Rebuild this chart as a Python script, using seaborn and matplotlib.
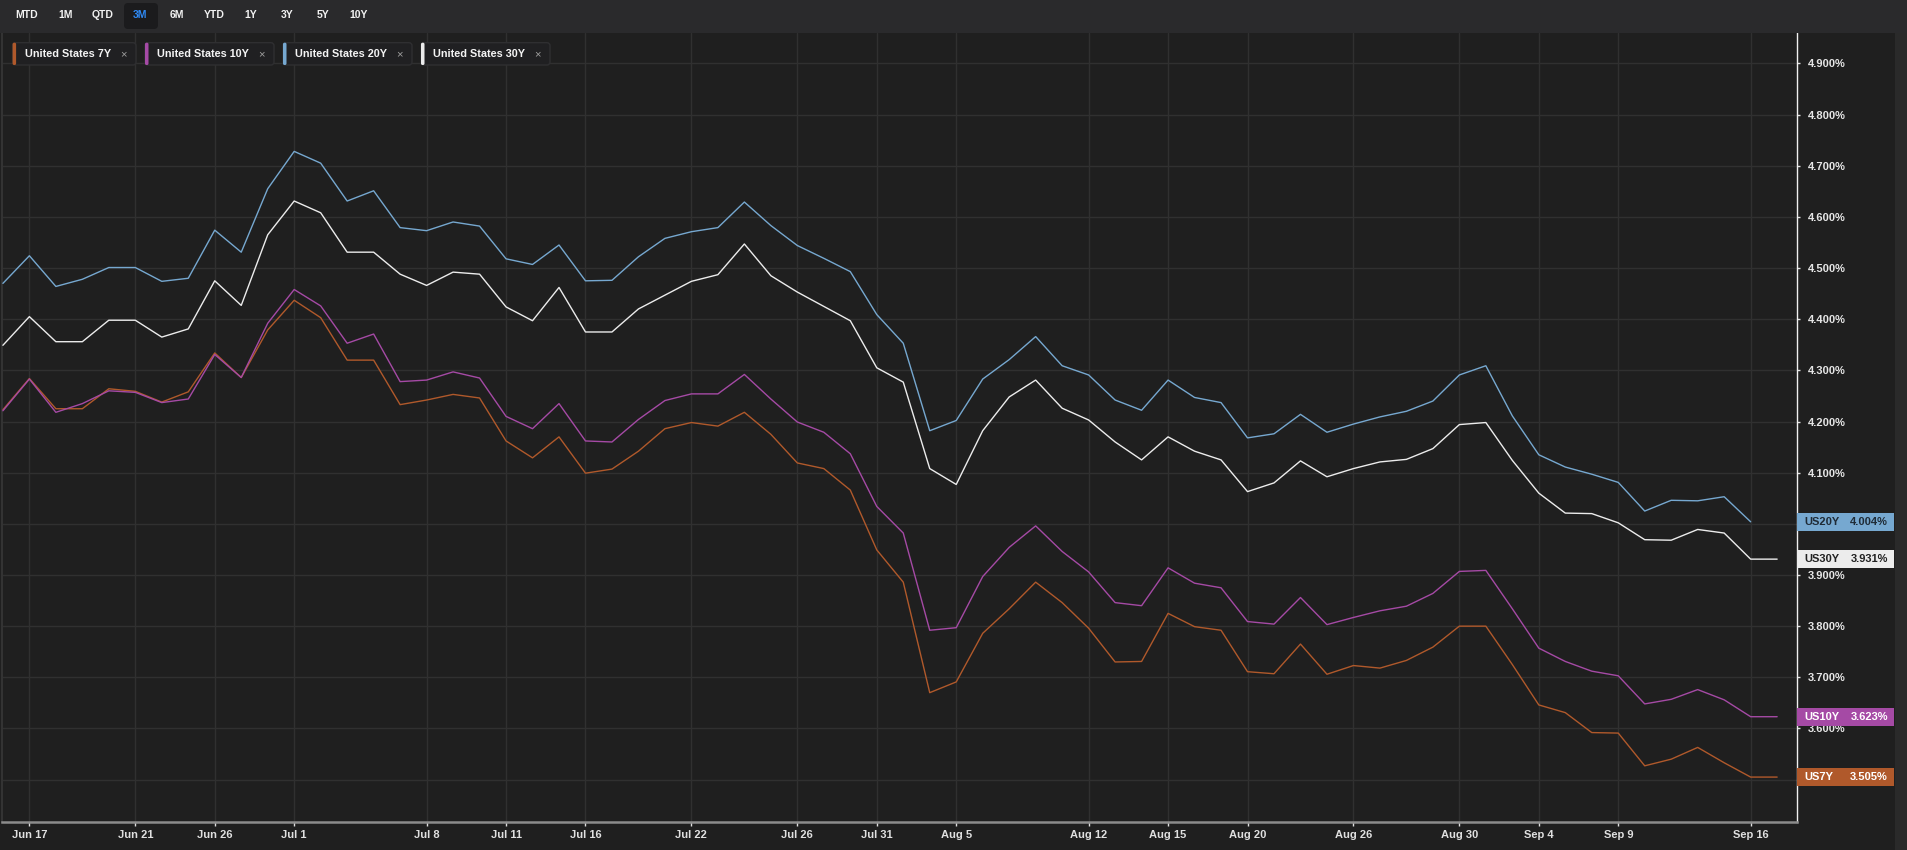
import numpy as np
import pandas as pd
import matplotlib
matplotlib.use("Agg")
import matplotlib.pyplot as plt
import matplotlib.transforms as mtransforms
from matplotlib.patches import Rectangle, FancyBboxPatch
import seaborn as sns

# weekdays shown on the chart (Jun 14 .. Sep 17)
dates = pd.bdate_range("2024-06-14", "2024-09-17")

us7y = [4.223, 4.284, 4.225, 4.225, 4.264, 4.259, 4.238, 4.258, 4.334, 4.286,
        4.379, 4.437, 4.403, 4.320, 4.320, 4.233, 4.242, 4.253, 4.246, 4.162,
        4.129, 4.170, 4.099, 4.107, 4.142, 4.186, 4.198, 4.191, 4.218, 4.175,
        4.119, 4.108, 4.066, 3.949, 3.886, 3.670, 3.691, 3.786, 3.834, 3.886,
        3.846, 3.796, 3.730, 3.731, 3.825, 3.799, 3.792, 3.711, 3.707, 3.765,
        3.706, 3.723, 3.718, 3.733, 3.759, 3.800, 3.800, 3.725, 3.646, 3.631,
        3.592, 3.591, 3.527, 3.540, 3.563, 3.533, 3.505, 3.505]
us10y = [4.221, 4.283, 4.218, 4.235, 4.260, 4.257, 4.237, 4.244, 4.331, 4.286,
         4.392, 4.458, 4.426, 4.353, 4.371, 4.278, 4.281, 4.297, 4.285, 4.210,
         4.186, 4.235, 4.162, 4.160, 4.204, 4.241, 4.254, 4.254, 4.292, 4.244,
         4.199, 4.179, 4.137, 4.034, 3.982, 3.792, 3.797, 3.897, 3.954, 3.996,
         3.946, 3.906, 3.846, 3.840, 3.914, 3.884, 3.875, 3.809, 3.804, 3.856,
         3.803, 3.817, 3.830, 3.839, 3.864, 3.907, 3.909, 3.834, 3.757, 3.731,
         3.712, 3.703, 3.648, 3.657, 3.676, 3.656, 3.623, 3.623]
us20y = [4.470, 4.524, 4.464, 4.478, 4.501, 4.501, 4.474, 4.480, 4.574, 4.531,
         4.655, 4.728, 4.705, 4.631, 4.651, 4.579, 4.573, 4.590, 4.582, 4.518,
         4.507, 4.545, 4.475, 4.476, 4.522, 4.558, 4.571, 4.579, 4.629, 4.583,
         4.544, 4.519, 4.493, 4.409, 4.353, 4.182, 4.202, 4.283, 4.321, 4.366,
         4.309, 4.291, 4.242, 4.222, 4.281, 4.247, 4.237, 4.168, 4.176, 4.214,
         4.179, 4.195, 4.209, 4.220, 4.240, 4.291, 4.309, 4.211, 4.135, 4.111,
         4.097, 4.081, 4.025, 4.046, 4.045, 4.053, 4.004, np.nan]
us30y = [4.349, 4.405, 4.356, 4.356, 4.398, 4.398, 4.365, 4.381, 4.475, 4.427,
         4.565, 4.631, 4.608, 4.531, 4.531, 4.488, 4.466, 4.492, 4.488, 4.424,
         4.397, 4.462, 4.375, 4.375, 4.420, 4.447, 4.474, 4.487, 4.547, 4.485,
         4.453, 4.425, 4.397, 4.305, 4.277, 4.108, 4.077, 4.182, 4.248, 4.281,
         4.226, 4.203, 4.160, 4.125, 4.170, 4.142, 4.125, 4.063, 4.080, 4.123,
         4.092, 4.108, 4.121, 4.126, 4.147, 4.194, 4.198, 4.124, 4.060, 4.021,
         4.020, 4.002, 3.969, 3.968, 3.989, 3.982, 3.931, 3.931]

series_names = ["United States 7Y", "United States 10Y", "United States 20Y", "United States 30Y"]
short_names = ["US7Y", "US10Y", "US20Y", "US30Y"]
colors = ["#b0592b", "#a54aa5", "#76a8d0", "#ececec"]
box_text_colors = ["#ffffff", "#ffffff", "#1f2b36", "#222222"]

tick_days = ["2024-06-17", "2024-06-21", "2024-06-26", "2024-07-01", "2024-07-08",
             "2024-07-11", "2024-07-16", "2024-07-22", "2024-07-26", "2024-07-31",
             "2024-08-05", "2024-08-12", "2024-08-15", "2024-08-20", "2024-08-26",
             "2024-08-30", "2024-09-04", "2024-09-09", "2024-09-16"]
tick_labels = ["Jun 17", "Jun 21", "Jun 26", "Jul 1", "Jul 8", "Jul 11", "Jul 16",
               "Jul 22", "Jul 26", "Jul 31", "Aug 5", "Aug 12", "Aug 15", "Aug 20",
               "Aug 26", "Aug 30", "Sep 4", "Sep 9", "Sep 16"]
y_ticks = [3.5, 3.6, 3.7, 3.8, 3.9, 4.0, 4.1, 4.2, 4.3, 4.4, 4.5, 4.6, 4.7, 4.8, 4.9]
# labels sitting under a last-value box are hidden in the original
hidden_ticks = [3.5, 4.0]
range_buttons = ["MTD", "1M", "QTD", "3M", "6M", "YTD", "1Y", "3Y", "5Y", "10Y"]
active_range = "3M"

W, H = 1908, 850
BG = "#1f1f1f"

sns.set_theme(style="dark")
plt.rcParams["font.family"] = ["Liberation Sans", "DejaVu Sans"]

df = pd.DataFrame({
    "day": np.tile(np.arange(len(dates)), 4),
    "yield": np.concatenate([us7y, us10y, us20y, us30y]),
    "series": np.repeat(series_names, len(dates)),
})

fig = plt.figure(figsize=(W / 100, H / 100), dpi=100, facecolor=BG)
# pixel (from top-left) -> figure
pxT = mtransforms.Affine2D().scale(1 / W, -1 / H).translate(0, 1) + fig.transFigure

ax = fig.add_axes([2 / W, 1 - 822 / H, 1795 / W, (822 - 33) / H])
ax.set_facecolor(BG)

sns.lineplot(data=df, x="day", y="yield", hue="series", hue_order=series_names,
             palette=dict(zip(series_names, colors)), linewidth=1.0,
             legend=False, ax=ax, zorder=3)

ax.set_xlim(-0.034, 67.75)
ax.set_ylim(3.4172, 4.9594)
tick_pos = [dates.get_loc(pd.Timestamp(d)) for d in tick_days]
ax.set_xticks(tick_pos)
ax.set_xticklabels(tick_labels, family=["Liberation Sans Narrow", "Liberation Sans"],
                   fontweight="bold", fontsize=8, color="#e0e0e0")
ax.yaxis.tick_right()
ax.set_yticks(y_ticks)
ax.set_yticklabels(["" if v in hidden_ticks else f"{v:.3f}%" for v in y_ticks],
                   fontweight="bold", fontsize=8, color="#e6e6e6")
ax.tick_params(axis="x", direction="out", length=3, width=1, color="#e0e0e0", pad=3,
               bottom=True)
ax.tick_params(axis="y", direction="out", length=2.5, width=1, color="#e0e0e0", pad=5,
               right=True, left=False)
ax.set_xlabel("")
ax.set_ylabel("")
ax.grid(True, color="#303030", linewidth=1.0)
ax.set_axisbelow(True)
ax.spines["top"].set_visible(False)
ax.spines["left"].set_color("#333333")
ax.spines["left"].set_linewidth(1.5)
ax.spines["right"].set_color("#f0f0f0")
ax.spines["right"].set_linewidth(1.0)
ax.spines["bottom"].set_color("#8c8c8c")
ax.spines["bottom"].set_linewidth(1.8)

# last value boxes on the right axis
boxT = mtransforms.blended_transform_factory(pxT, ax.transData)
last_vals = [us7y[-1], us10y[-1], us20y[-2], us30y[-1]]
for name, val, c, tc in zip(short_names, last_vals, colors, box_text_colors):
    fig.add_artist(Rectangle((1797, val - 0.0179), 97, 0.0358, transform=boxT,
                             facecolor=c, edgecolor="none", zorder=5))
    fig.text(1804, val, name, transform=boxT, ha="left", va="center", fontsize=8,
             fontweight="bold", color=tc, zorder=6)
    fig.text(1888, val, f"{val:.3f}%", transform=boxT, ha="right", va="center",
             fontsize=8, fontweight="bold", color=tc, zorder=6)

# right-hand strip and toolbar
fig.add_artist(Rectangle((1895, 33), 13, 817, transform=pxT, facecolor="#2a2a2a",
                         edgecolor="none", zorder=1))
fig.add_artist(Rectangle((0, 0), W, 33, transform=pxT, facecolor="#2a2a2c",
                         edgecolor="none", zorder=1))
btn_x = [27, 66, 103, 140, 177, 214, 251, 287, 323, 359]
for label, bx in zip(range_buttons, btn_x):
    if label == active_range:
        fig.add_artist(FancyBboxPatch((124, 3), 34, 26, transform=pxT,
                                      boxstyle="round,pad=0,rounding_size=4",
                                      facecolor="#1b1b1d", edgecolor="none", zorder=2))
    fig.text(bx, 15.5, label, transform=pxT, ha="center", va="center", fontsize=7.5,
             fontweight="bold", color="#2f8af5" if label == active_range else "#f2f2f2",
             zorder=3)

# series chips
chip_x = [(12.6, 136), (145, 274), (283, 412), (421, 550)]
for name, c, (x0, x1) in zip(series_names, colors, chip_x):
    fig.add_artist(FancyBboxPatch((x0, 42.7), x1 - x0, 22.3, transform=pxT,
                                  boxstyle="round,pad=0,rounding_size=3",
                                  facecolor="#202022", edgecolor="#2f2f31",
                                  linewidth=1, zorder=2))
    fig.add_artist(FancyBboxPatch((x0, 42.7), 3.5, 22.3, transform=pxT,
                                  boxstyle="round,pad=0,rounding_size=1.5",
                                  facecolor=c, edgecolor="none", zorder=3))
    fig.text(x0 + 12.5, 54, name, transform=pxT, ha="left", va="center", fontsize=7.8,
             fontweight="bold", color="#f4f4f4", zorder=4)
    fig.text(x1 - 13, 54.5, "×", transform=pxT, ha="center", va="center", fontsize=8,
             color="#a0a0a0", zorder=4)

fig.savefig("out.png", dpi=100, facecolor=fig.get_facecolor())
